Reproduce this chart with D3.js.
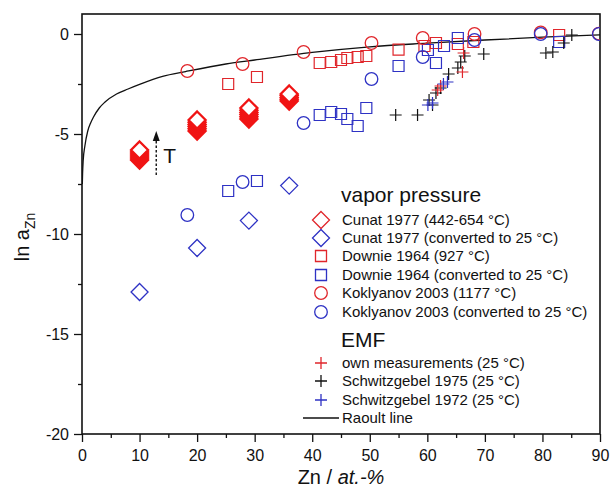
<!DOCTYPE html>
<html>
<head>
<meta charset="utf-8">
<script src="https://cdn.jsdelivr.net/npm/d3@7"></script>
<style>
  body { margin: 0; background: #fff; }
  text { font-family: "Liberation Sans", Arial, sans-serif; fill: #111; }
</style>
</head>
<body>
<svg id="chart" width="610" height="497"></svg>
<script>
// ---- data (x = Zn at.-%, y = ln a_Zn) ----
const cunatHighT = [
    [10, -6.30], [10, -6.20], [10, -6.10], [10, -6.00], [10, -5.90], [10, -5.80],
    [20, -4.85], [20, -4.74], [20, -4.63], [20, -4.52], [20, -4.41], [20, -4.30],
    [29, -4.25], [29, -4.14], [29, -4.03], [29, -3.92], [29, -3.81], [29, -3.70],
    [36, -3.35], [36, -3.26], [36, -3.17], [36, -3.08], [36, -3.00]
];
const cunat25 = [[10, -12.9], [20, -10.7], [29, -9.33], [36, -7.58]];
const downieHighT = [
    [25.4, -2.5], [30.4, -2.15], [41.3, -1.45], [43.3, -1.4], [45, -1.3], [46.1, -1.2],
    [47.9, -1.15], [49.4, -1.1], [55, -0.78], [59.5, -0.6], [61.5, -0.45], [65.3, -0.5],
    [68, -0.4], [82.9, -0.05]
];
const downie25 = [
    [25.4, -7.85], [30.4, -7.35], [41.3, -4.05], [43.3, -3.9], [45, -4.0], [46.1, -4.25],
    [47.9, -4.6], [49.4, -3.7], [55, -1.6], [60.1, -0.8], [61.5, -1.45], [62.9, -0.6],
    [65.3, -0.2], [82.9, -0.4]
];
const koklyanovHighT = [
    [18.3, -1.85], [27.9, -1.5], [38.5, -0.9], [50.3, -0.45], [59.2, -0.2],
    [68.2, 0.0], [79.7, 0.08], [89.8, 0.02]
];
const koklyanov25 = [
    [18.3, -9.05], [27.9, -7.4], [38.5, -4.45], [50.3, -2.25], [59.2, -1.15],
    [68.2, -0.3], [79.7, 0.0], [89.8, 0.0]
];
const emfOwn = [[61.8, -2.8], [62.3, -2.6], [66.1, -1.9], [66.3, -0.95]];
const emfSchw1975 = [
    [54.5, -4.05], [58.3, -4.05], [60.9, -3.55], [60.3, -3.3], [61.5, -2.95], [62.3, -2.7],
    [63.7, -2.0], [65.3, -1.7], [65.8, -1.4], [66.5, -1.1], [69.8, -1.0],
    [80.6, -0.95], [81.8, -0.9], [83.7, -0.45], [85.1, -0.05]
];
const emfSchw1972 = [[60.1, -3.55], [60.9, -3.45], [62.8, -2.5], [63.5, -2.4]];
const raoultLine = [
    [0.055, -7.5], [0.1, -7.0], [0.2, -6.35], [0.5, -5.6], [1, -4.85], [1.5, -4.45],
    [2, -4.15], [3, -3.7], [4, -3.4], [6, -3.0], [8, -2.75], [10, -2.52], [14, -2.12],
    [18, -1.88], [25, -1.5], [30, -1.3], [40, -0.92], [50, -0.64], [60, -0.46],
    [70, -0.3], [80, -0.16], [90, -0.04]
];
const xTicks = [0, 10, 20, 30, 40, 50, 60, 70, 80, 90];
const yTicks = [0, -5, -10, -15, -20];

const RED = "#e0262b", BLUE = "#2e32c4", FILLRED = "#f01414";

const margin = {top: 14, right: 10, bottom: 63, left: 82},
    width = 610 - margin.left - margin.right,
    height = 497 - margin.top - margin.bottom;

const x = d3.scaleLinear().domain([0, 90]).range([0, width]);
const y = d3.scaleLinear().domain([-20, 1]).range([height, 0]);

const svg = d3.select("#chart");
const g = svg.append("g").attr("transform", "translate(" + margin.left + "," + margin.top + ")");

g.append("clipPath").attr("id", "plot-clip")
    .append("rect").attr("width", width).attr("height", height);

// minor ticks
g.append("g")
    .attr("transform", "translate(0," + height + ")")
    .call(d3.axisBottom(x).tickValues(d3.range(5, 90, 10)).tickSize(4).tickFormat("").tickSizeOuter(0))
    .call(a => a.select(".domain").remove());
g.append("g")
    .call(d3.axisLeft(y).tickValues([-2.5, -7.5, -12.5, -17.5]).tickSize(4).tickFormat("").tickSizeOuter(0))
    .call(a => a.select(".domain").remove());

// major ticks
g.append("g")
    .attr("transform", "translate(0," + height + ")")
    .call(d3.axisBottom(x).tickValues(xTicks).tickSize(8).tickPadding(8).tickFormat(d => String(d)).tickSizeOuter(0))
    .call(a => a.select(".domain").remove())
    .selectAll("text").style("font-size", "16px").attr("fill", "#111");
g.append("g")
    .call(d3.axisLeft(y).tickValues(yTicks).tickSize(8).tickPadding(5).tickFormat(d => String(d)).tickSizeOuter(0))
    .call(a => a.select(".domain").remove())
    .selectAll("text").style("font-size", "16px").attr("fill", "#111");

g.selectAll(".tick line").attr("stroke", "#111").attr("stroke-width", 1.3);

// frame
g.append("rect")
    .attr("width", width).attr("height", height)
    .attr("fill", "none").attr("stroke", "#111").attr("stroke-width", 1.6);

const plot = g.append("g").attr("clip-path", "url(#plot-clip)");

// Raoult line
plot.append("path")
    .datum(raoultLine)
    .attr("fill", "none").attr("stroke", "#111").attr("stroke-width", 1.3)
    .attr("d", d3.line().x(d => x(d[0])).y(d => y(d[1])).curve(d3.curveMonotoneX));

// marker shapes
const diamondPath = "M0,-8.5L8.5,0L0,8.5L-8.5,0Z";
const squarePath = "M-5.5,-5.5H5.5V5.5H-5.5Z";
const plusPath = "M-6,0H6M0,-6V6";

function drawPath(data, path, color, fill, sw) {
    plot.append("g").selectAll("path")
        .data(data)
        .join("path")
        .attr("transform", d => "translate(" + x(d[0]) + "," + y(d[1]) + ")")
        .attr("d", path)
        .attr("fill", fill)
        .attr("stroke", color)
        .attr("stroke-width", sw);
}
function drawCircles(data, color) {
    plot.append("g").selectAll("circle")
        .data(data)
        .join("circle")
        .attr("cx", d => x(d[0])).attr("cy", d => y(d[1]))
        .attr("r", 6.3)
        .attr("fill", "none").attr("stroke", color).attr("stroke-width", 1.3);
}

// Cunat stacks: lowest first so the upper diamonds overlap them
drawPath(cunatHighT.slice().sort((a, b) => a[1] - b[1]), diamondPath, FILLRED, "#fff", 2.3);
drawPath(cunat25, diamondPath, BLUE, "none", 1.3);
drawPath(downieHighT, squarePath, RED, "none", 1.2);
drawPath(downie25, squarePath, BLUE, "none", 1.2);
drawCircles(koklyanovHighT, RED);
drawCircles(koklyanov25, BLUE);
drawPath(emfSchw1975, plusPath, "#111", "none", 1.2);
drawPath(emfOwn, plusPath, RED, "none", 1.2);
drawPath(emfSchw1972, plusPath, BLUE, "none", 1.2);

// temperature arrow
g.append("line")
    .attr("x1", x(12.9)).attr("x2", x(12.9))
    .attr("y1", y(-7.05)).attr("y2", y(-5.25))
    .attr("stroke", "#111").attr("stroke-width", 1.4).attr("stroke-dasharray", "2.5,2");
g.append("path")
    .attr("transform", "translate(" + x(12.9) + "," + y(-4.85) + ")")
    .attr("d", "M0,0L3.5,10L-3.5,10Z")
    .attr("fill", "#111");
g.append("text")
    .attr("x", x(14.1)).attr("y", y(-6.45))
    .style("font-size", "21px")
    .text("T");

// axis titles
const xt = svg.append("text")
    .attr("x", 341).attr("y", 484)
    .attr("text-anchor", "middle")
    .style("font-size", "20px");
xt.append("tspan").text("Zn / ");
xt.append("tspan").style("font-style", "italic").text("at.-%");

const yt = svg.append("text")
    .attr("transform", "translate(29,237) rotate(-90)")
    .attr("text-anchor", "middle")
    .style("font-size", "20px");
yt.append("tspan").text("ln a");
yt.append("tspan").attr("dy", 6).style("font-size", "14px").text("Zn");

// legend
const legend = svg.append("g");
const legendVapor = [
    {label: "Cunat 1977 (442-654 °C)", shape: diamondPath, color: RED, y: 220},
    {label: "Cunat 1977 (converted to 25 °C)", shape: diamondPath, color: BLUE, y: 238},
    {label: "Downie 1964 (927 °C)", shape: squarePath, color: RED, y: 256},
    {label: "Downie 1964 (converted to 25 °C)", shape: squarePath, color: BLUE, y: 275},
    {label: "Koklyanov 2003 (1177 °C)", shape: "circle", color: RED, y: 293},
    {label: "Koklyanov 2003 (converted to 25 °C)", shape: "circle", color: BLUE, y: 312}
];
const legendEmf = [
    {label: "own measurements (25 °C)", shape: plusPath, color: RED, y: 363},
    {label: "Schwitzgebel 1975 (25 °C)", shape: plusPath, color: "#111", y: 381},
    {label: "Schwitzgebel 1972 (25 °C)", shape: plusPath, color: BLUE, y: 400},
    {label: "Raoult line", shape: "line", color: "#111", y: 418}
];

legend.append("text").attr("x", 341).attr("y", 202).style("font-size", "21px").text("vapor pressure");
legend.append("text").attr("x", 341).attr("y", 347).style("font-size", "21px").text("EMF");

legendVapor.concat(legendEmf).forEach(item => {
    if (item.shape === "circle") {
        legend.append("circle").attr("cx", 321).attr("cy", item.y).attr("r", 6.3)
            .attr("fill", "none").attr("stroke", item.color).attr("stroke-width", 1.3);
    } else if (item.shape === "line") {
        legend.append("line").attr("x1", 303).attr("x2", 339).attr("y1", item.y).attr("y2", item.y)
            .attr("stroke", item.color).attr("stroke-width", 1.3);
    } else {
        legend.append("path").attr("transform", "translate(321," + item.y + ")")
            .attr("d", item.shape).attr("fill", "none")
            .attr("stroke", item.color).attr("stroke-width", 1.3);
    }
    legend.append("text").attr("x", 342).attr("y", item.y).attr("dy", "0.36em")
        .style("font-size", "15px").text(item.label);
});
</script>
</body>
</html>
